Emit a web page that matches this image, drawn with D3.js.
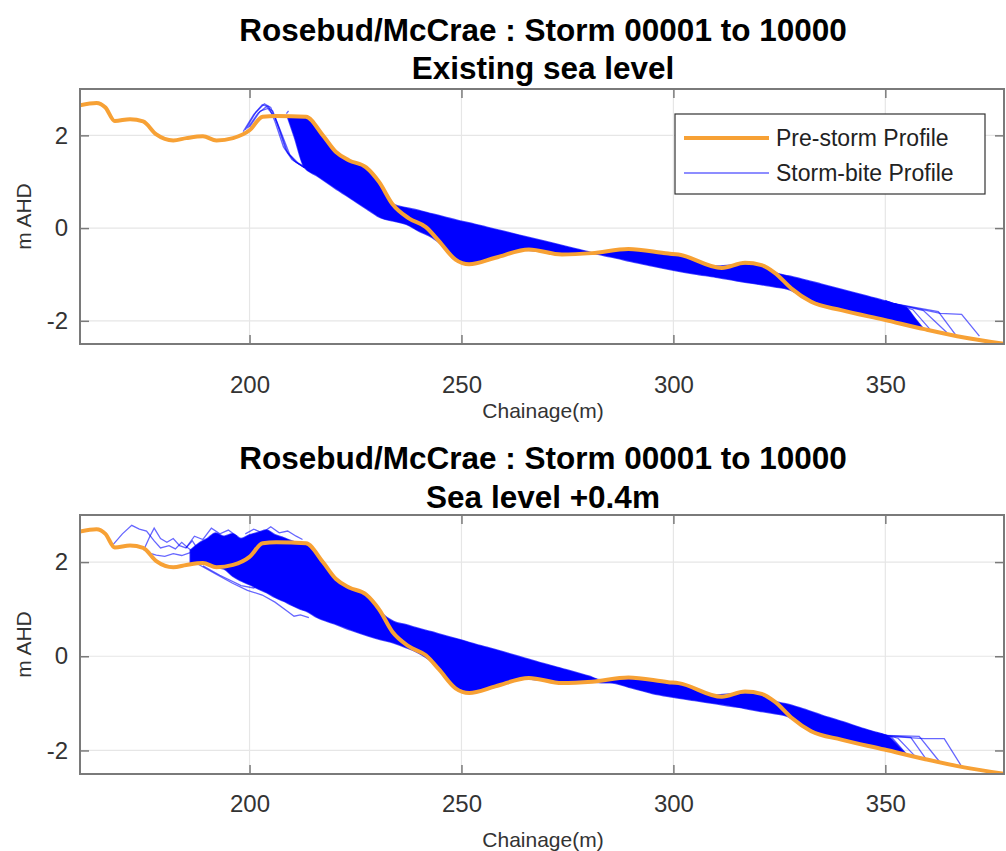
<!DOCTYPE html>
<html>
<head>
<meta charset="utf-8">
<script src="https://cdn.jsdelivr.net/npm/d3@7"></script>
<style>
  body { margin: 0; background: #fff; }
  svg { display: block; font-family: "Liberation Sans", Arial, sans-serif; }
</style>
</head>
<body>
<svg id="chart" width="1006" height="851"></svg>
<script>
// pre-storm beach profile (chainage m, elevation m AHD)
const preCh = [160, 163.9, 166, 168.2, 171.8, 174.9, 178.0, 182.0, 185.1, 189.0, 192.2, 196.1, 200.0, 203.1, 206.3, 213.3, 217.3, 220.4, 223.5, 227.5, 230.6, 233.7, 237.6, 241.6, 244.7, 248.6, 251.8, 258.0, 265.9, 273.7, 280.8, 289.4, 298.8, 301.2, 311.4, 316.9, 320.8, 324.0, 327.8, 332.5, 339.6, 349.8, 359.2, 368.6, 378.4];
const preEl = [2.65, 2.70, 2.60, 2.31, 2.35, 2.30, 2.02, 1.89, 1.94, 1.98, 1.89, 1.94, 2.11, 2.40, 2.42, 2.40, 2.00, 1.64, 1.46, 1.31, 0.99, 0.52, 0.21, 0.02, -0.28, -0.68, -0.78, -0.64, -0.46, -0.57, -0.54, -0.45, -0.55, -0.57, -0.86, -0.75, -0.80, -0.97, -1.30, -1.59, -1.77, -1.98, -2.18, -2.36, -2.50];

// envelope of the storm-bite profiles, existing sea level
const topBandCh = [209, 210.5, 212.9, 216, 220, 224, 228, 231, 234, 237, 240, 243, 246, 249, 252, 256, 260, 265, 270, 275, 280, 281, 285, 290, 295, 300, 305, 310, 315, 320, 324, 327, 330, 335, 340, 345, 350, 353, 355, 357, 359];
const topBandHi = [2.42, 2.41, 2.40, 2.11, 1.68, 1.44, 1.26, 0.93, 0.51, 0.44, 0.38, 0.31, 0.24, 0.17, 0.11, 0.02, -0.07, -0.18, -0.29, -0.40, -0.51, -0.53, -0.50, -0.46, -0.52, -0.56, -0.68, -0.82, -0.79, -0.79, -0.96, -1.03, -1.09, -1.21, -1.33, -1.45, -1.57, -1.66, -1.72, -1.95, -2.17];
const topBandLo = [2.38, 1.98, 1.31, 1.12, 0.87, 0.63, 0.39, 0.22, 0.15, 0.08, -0.07, -0.20, -0.41, -0.70, -0.77, -0.68, -0.59, -0.48, -0.52, -0.57, -0.54, -0.55, -0.62, -0.72, -0.82, -0.91, -0.99, -1.06, -1.14, -1.21, -1.27, -1.32, -1.44, -1.65, -1.78, -1.88, -1.98, -2.05, -2.09, -2.13, -2.17];

// single storm-bite profiles standing out of the band, existing sea level
const topStray = [
  [[198.5, 2.08], [201, 2.45], [203, 2.66], [204.5, 2.62], [206, 2.30], [208, 1.75], [210, 1.48], [213, 1.30]],
  [[199, 2.12], [201.5, 2.50], [203.5, 2.68], [205, 2.60], [206.5, 2.25], [208.5, 1.70], [210.5, 1.45], [213, 1.30]],
  [[199.5, 2.15], [202, 2.48], [204, 2.62], [205.5, 2.52], [207, 2.15], [209, 1.62], [211, 1.42], [213, 1.30]],
  [[200, 2.18], [202.5, 2.52], [204.3, 2.58], [206, 2.40], [207.5, 2.05], [209.5, 1.58], [211.5, 1.40], [213, 1.32]],
  [[208.7, 2.47], [209.2, 2.53]],
  [[350, -1.57], [353.5, -1.70], [356.5, -2.08]],
  [[350, -1.57], [355, -1.72], [358.5, -2.13]],
  [[350, -1.57], [356.5, -1.76], [360.5, -2.18]],
  [[352, -1.63], [359, -1.78], [364.5, -2.25]],
  [[352, -1.63], [362.5, -1.80], [366.5, -2.29]],
  [[352, -1.63], [363, -1.84], [368, -1.86], [372.2, -2.33]]
];

// envelope of the storm-bite profiles, sea level +0.4m
const botBandCh = [186, 188, 190, 192, 194, 196, 198, 200, 202, 204, 206, 208, 210, 212, 213.3, 216, 220, 224, 228, 231, 234, 237, 240, 243, 246, 249, 252, 256, 260, 265, 270, 275, 280, 283, 285, 290, 295, 300, 305, 310, 315, 320, 324, 327, 330, 335, 340, 345, 348, 351, 353, 355];
const botBandHi = [2.25, 2.40, 2.50, 2.62, 2.55, 2.60, 2.50, 2.58, 2.63, 2.68, 2.58, 2.52, 2.45, 2.40, 2.40, 2.11, 1.68, 1.44, 1.26, 0.93, 0.74, 0.67, 0.59, 0.52, 0.44, 0.37, 0.29, 0.19, 0.09, -0.04, -0.17, -0.29, -0.42, -0.50, -0.50, -0.46, -0.52, -0.56, -0.68, -0.82, -0.79, -0.79, -0.96, -1.02, -1.10, -1.25, -1.39, -1.54, -1.62, -1.72, -1.90, -2.09];
const botBandLo = [1.95, 1.97, 1.95, 1.89, 1.85, 1.70, 1.60, 1.52, 1.43, 1.35, 1.25, 1.17, 1.08, 1.00, 0.96, 0.82, 0.69, 0.55, 0.43, 0.35, 0.28, 0.18, 0.06, -0.12, -0.41, -0.70, -0.77, -0.68, -0.59, -0.48, -0.52, -0.57, -0.54, -0.56, -0.56, -0.67, -0.79, -0.87, -0.94, -1.01, -1.08, -1.16, -1.22, -1.28, -1.44, -1.65, -1.78, -1.88, -1.94, -2.00, -2.05, -2.09];

const botStray = [
  [[167.8, 2.37], [170, 2.60], [172.2, 2.78], [174, 2.70], [175.7, 2.66], [177.5, 2.45], [179, 2.30], [181, 2.35], [182.5, 2.28], [184, 2.42], [185.5, 2.30], [187, 2.20], [189, 2.15]],
  [[175, 2.25], [176.5, 2.55], [177.5, 2.72], [179, 2.50], [180.5, 2.42], [182, 2.50], [183.5, 2.35], [185, 2.30], [186.5, 2.45], [188, 2.25], [190, 2.20]],
  [[176, 2.20], [178, 2.15], [180, 2.12], [182, 2.18], [184, 2.14], [186, 2.20], [188, 2.30]],
  [[185, 2.30], [187, 2.55], [189, 2.48], [191, 2.72], [193, 2.60], [195, 2.68], [197, 2.55]],
  [[199, 2.60], [201, 2.70], [203, 2.62], [205, 2.75], [207, 2.62], [209, 2.66], [211, 2.55], [212.5, 2.48]],
  [[188, 1.95], [192, 1.75], [196, 1.55], [199.5, 1.40], [203, 1.30], [206, 1.15], [209, 0.95], [210.5, 0.85], [212, 0.88], [214, 0.82]],
  [[189, 1.92], [193, 1.72], [198, 1.50], [201, 1.45], [202, 1.52]],
  [[348, -1.62], [351.5, -1.72], [355, -2.08]],
  [[349, -1.65], [353, -1.74], [357, -2.12]],
  [[350, -1.68], [356, -1.72], [359.5, -2.17]],
  [[350, -1.68], [358, -1.70], [362.8, -2.24]],
  [[351, -1.70], [359.2, -1.75], [363.9, -1.75], [367.8, -2.31]]
];

const xTicks = [200, 250, 300, 350];
const yTicks = [-2, 0, 2];
const titleLine1 = 'Rosebud/McCrae : Storm 00001 to 10000';
const panelTitles = ['Existing sea level', 'Sea level +0.4m'];
const legendLabels = ['Pre-storm Profile', 'Storm-bite Profile'];

const orange = '#f7a135';
const blue = '#0000ff';
const svg = d3.select('#chart');

const x = d3.scaleLinear().domain([160, 378]).range([80, 1004]);

const panels = [
  { top: 89, bottom: 344, t1: 41, t2: 79, tickPad: 32, labelY: 418, band: [topBandCh, topBandHi, topBandLo], stray: topStray, title: panelTitles[0], legend: true },
  { top: 515, bottom: 774, t1: 469, t2: 508, tickPad: 21, labelY: 847, band: [botBandCh, botBandHi, botBandLo], stray: botStray, title: panelTitles[1], legend: false }
];

panels.forEach((p, i) => {
  const y = d3.scaleLinear().domain([-2.5, 3]).range([p.bottom, p.top]);
  const g = svg.append('g');

  g.append('clipPath').attr('id', 'clip' + i)
    .append('rect')
    .attr('x', x.range()[0]).attr('y', p.top)
    .attr('width', x.range()[1] - x.range()[0]).attr('height', p.bottom - p.top);

  // grid
  g.selectAll('.gx').data(xTicks).join('line')
    .attr('x1', d => x(d)).attr('x2', d => x(d))
    .attr('y1', p.top).attr('y2', p.bottom)
    .attr('stroke', '#e6e6e6').attr('stroke-width', 1.2);
  g.selectAll('.gy').data(yTicks).join('line')
    .attr('y1', d => y(d)).attr('y2', d => y(d))
    .attr('x1', x.range()[0]).attr('x2', x.range()[1])
    .attr('stroke', '#e6e6e6').attr('stroke-width', 1.2);

  const plot = g.append('g').attr('clip-path', `url(#clip${i})`);

  // dense storm-bite band
  const [bc, bh, bl] = p.band;
  const area = d3.area()
    .x((d, k) => x(bc[k]))
    .y0((d, k) => y(bl[k]))
    .y1((d, k) => y(bh[k]))
    .curve(d3.curveMonotoneX);
  plot.append('path')
    .attr('d', area(bc))
    .attr('fill', blue).attr('stroke', blue).attr('stroke-width', 1.5).attr('stroke-opacity', 0.7);

  const line = d3.line().x(d => x(d[0])).y(d => y(d[1]));
  plot.selectAll('.stray').data(p.stray).join('path')
    .attr('d', line)
    .attr('fill', 'none').attr('stroke', blue)
    .attr('stroke-width', 1.3).attr('stroke-opacity', 0.6);

  // pre-storm profile
  const preLine = d3.line()
    .x((d, k) => x(preCh[k]))
    .y((d, k) => y(preEl[k]))
    .curve(d3.curveMonotoneX);
  plot.append('path')
    .attr('d', preLine(preCh))
    .attr('fill', 'none').attr('stroke', orange)
    .attr('stroke-width', 4).attr('stroke-linejoin', 'round');

  // axes, ticks pointing inwards on all four sides
  const axG = g.append('g').attr('color', '#7a7a7a');
  const bAx = axG.append('g').attr('transform', `translate(0,${p.bottom})`)
    .call(d3.axisBottom(x).tickValues(xTicks).tickSize(-9).tickPadding(p.tickPad));
  axG.append('g').attr('transform', `translate(0,${p.top})`)
    .call(d3.axisTop(x).tickValues(xTicks).tickSize(-9).tickFormat(''));
  const lAx = axG.append('g').attr('transform', `translate(${x.range()[0]},0)`)
    .call(d3.axisLeft(y).tickValues(yTicks).tickSize(-9).tickPadding(12).tickFormat(d => String(d)));
  axG.append('g').attr('transform', `translate(${x.range()[1]},0)`)
    .call(d3.axisRight(y).tickValues(yTicks).tickSize(-9).tickFormat(''));
  axG.selectAll('.domain').remove();
  axG.selectAll('.tick line').attr('stroke-width', 1.5);
  [bAx, lAx].forEach(a => a.selectAll('text')
    .attr('fill', '#333').style('font-size', '24px'));

  g.append('rect')
    .attr('x', x.range()[0]).attr('y', p.top)
    .attr('width', x.range()[1] - x.range()[0]).attr('height', p.bottom - p.top)
    .attr('fill', 'none').attr('stroke', '#7a7a7a').attr('stroke-width', 2);

  // labels and titles
  g.append('text')
    .attr('x', 543).attr('y', p.labelY).attr('text-anchor', 'middle')
    .attr('fill', '#333').style('font-size', '21px')
    .text('Chainage(m)');
  g.append('text')
    .attr('transform', `translate(31,${(p.top + p.bottom) / 2}) rotate(-90)`)
    .attr('text-anchor', 'middle')
    .attr('fill', '#333').style('font-size', '21px')
    .text('m AHD');
  g.append('text')
    .attr('x', 543).attr('y', p.t1).attr('text-anchor', 'middle')
    .attr('fill', '#000').style('font-size', '31.5px').style('font-weight', 'bold')
    .text(titleLine1);
  g.append('text')
    .attr('x', 543).attr('y', p.t2).attr('text-anchor', 'middle')
    .attr('fill', '#000').style('font-size', '31.5px').style('font-weight', 'bold')
    .text(p.title);

  if (p.legend) {
    const lg = g.append('g');
    lg.append('rect')
      .attr('x', 675).attr('y', 114).attr('width', 310).attr('height', 80)
      .attr('fill', '#fff').attr('stroke', '#333').attr('stroke-width', 1.2);
    const items = [
      { label: legendLabels[0], color: orange, w: 4, op: 1 },
      { label: legendLabels[1], color: blue, w: 1.5, op: 0.6 }
    ];
    items.forEach((it, k) => {
      const cy = 138 + k * 35;
      lg.append('line')
        .attr('x1', 684).attr('x2', 769).attr('y1', cy).attr('y2', cy)
        .attr('stroke', it.color).attr('stroke-width', it.w).attr('stroke-opacity', it.op);
      lg.append('text')
        .attr('x', 776).attr('y', cy + 8)
        .attr('fill', '#222').style('font-size', '23px')
        .text(it.label);
    });
  }
});
</script>
</body>
</html>
